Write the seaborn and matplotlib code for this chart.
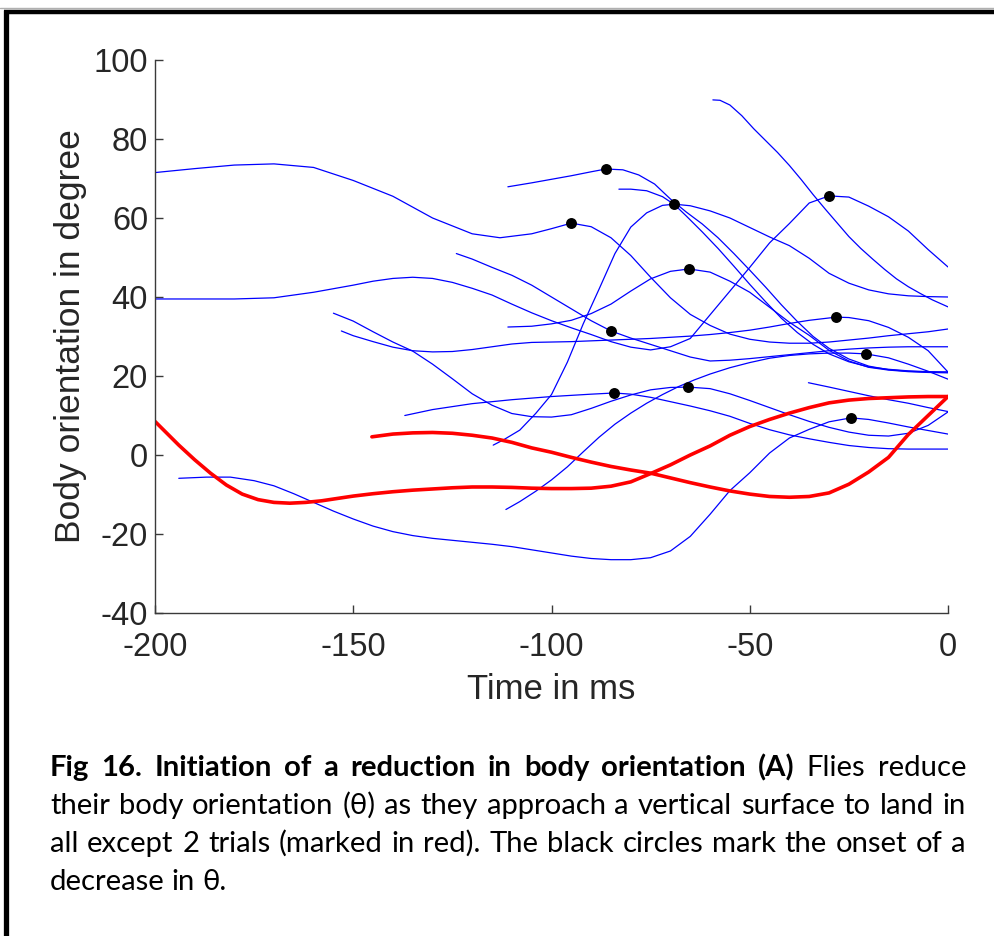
import numpy as np
import pandas as pd
import seaborn as sns
import matplotlib
matplotlib.use("Agg")
import matplotlib.pyplot as plt
from matplotlib.lines import Line2D

# ---------------- trajectories: time (ms) and body orientation (deg) ----------------
t_b1 = [-200, -190, -180, -170, -160, -150, -140, -130, -120, -113, -105, -100, -95, -90, -85, -80,
        -75, -70, -65, -60, -55, -50, -45, -40, -35, -30, -25, -20, -15, -10, -5, 0]
y_b1 = [71.5, 72.5, 73.4, 73.7, 72.8, 69.5, 65.5, 60.0, 56.0, 55.0, 56.0, 57.3, 58.7, 57.8, 55.0, 50.5,
        45.0, 39.8, 35.6, 32.8, 30.6, 29.3, 28.6, 28.3, 28.3, 28.6, 29.1, 29.6, 30.2, 30.7, 31.2, 31.9]

t_b2 = [-200, -190, -180, -170, -160, -150, -145, -140, -135, -130, -125, -120, -115, -110, -105, -100,
        -95, -90, -85, -80, -75, -70, -65, -60, -55, -50, -45, -40, -35, -30, -25, -20, -15, -10, -5, 0]
y_b2 = [39.5, 39.5, 39.5, 39.8, 41.2, 43.0, 44.0, 44.7, 45.0, 44.7, 43.7, 42.2, 40.5, 38.2, 36.0, 34.0,
        32.2, 30.5, 28.7, 27.3, 26.6, 27.4, 29.5, 35.5, 41.5, 47.5, 53.7, 58.6, 63.8, 65.6, 65.3, 63.0,
        60.3, 56.7, 52.0, 47.6]

t_b3 = [-194, -187, -181, -175, -170, -165, -160, -155, -150, -145, -140, -135, -130, -125, -120, -115,
        -110, -105, -100, -95, -90, -85, -80, -75, -70, -65, -60, -55, -50, -45, -40, -35, -30, -24.5,
        -20, -15, -10, -5, 0]
y_b3 = [-5.9, -5.6, -5.6, -6.5, -7.8, -9.8, -12.0, -14.2, -16.2, -18.0, -19.4, -20.4, -21.1, -21.6,
        -22.1, -22.6, -23.2, -24.0, -24.8, -25.6, -26.2, -26.5, -26.5, -26.0, -24.3, -20.6, -15.0, -9.0,
        -4.5, 0.5, 4.3, 6.5, 8.4, 9.4, 9.0, 8.1, 7.1, 6.2, 5.3]

t_b4 = [-155, -150, -145, -140, -135, -130, -125, -120, -115, -110, -105, -100, -95, -90, -85, -80,
        -75, -70, -65.6, -60, -55, -50, -45, -40, -35, -30, -25, -20, -15, -10, -5, 0]
y_b4 = [35.9, 33.9, 31.2, 28.6, 26.3, 23.0, 19.3, 15.5, 12.6, 10.5, 9.7, 9.6, 10.2, 11.8, 13.6, 15.2,
        16.5, 17.1, 17.2, 16.8, 15.5, 13.8, 12.0, 10.2, 8.5, 7.0, 5.8, 5.0, 4.8, 5.5, 7.5, 10.9]

t_b5 = [-153, -150, -145, -140, -135, -130, -125, -120, -115, -110, -105, -100, -95, -90, -85, -80,
        -75, -70, -65, -60, -55, -50, -45, -40, -35, -28.2, -25, -20, -15, -10, -5, 0]
y_b5 = [31.4, 30.2, 28.7, 27.3, 26.4, 26.1, 26.2, 26.7, 27.4, 28.1, 28.5, 28.6, 28.7, 28.9, 29.1, 29.3,
        29.5, 29.8, 30.1, 30.5, 31.0, 31.6, 32.4, 33.3, 34.1, 34.9, 34.8, 34.0, 32.3, 29.8, 26.4, 21.0]

t_b6 = [-137, -130, -120, -110, -100, -90, -84.2, -80, -75, -70, -65, -60, -55, -50, -45, -40, -35,
        -30, -25, -20, -15, -10, -5, 0]
y_b6 = [10.0, 11.5, 13.0, 14.0, 14.8, 15.4, 15.7, 15.4, 14.6, 13.5, 12.4, 11.2, 9.8, 8.0, 6.4, 5.1,
        4.1, 3.2, 2.4, 1.9, 1.6, 1.5, 1.5, 1.5]

t_b7 = [-124, -120, -115, -110, -105, -100, -95, -90, -85, -80, -75, -70, -65, -60, -55, -50, -45,
        -40, -35, -30, -25, -20, -15, -10, -5, 0]
y_b7 = [51.0, 49.6, 47.5, 45.5, 43.0, 40.0, 37.0, 34.0, 31.4, 29.6, 28.0, 26.4, 24.8, 23.8, 24.0,
        24.4, 24.9, 25.4, 25.9, 26.4, 26.8, 27.1, 27.3, 27.4, 27.4, 27.4]

t_b8 = [-111, -105, -100, -95, -90, -85, -80, -75, -70, -65.3, -60, -55, -50, -45, -40, -35, -30,
        -25, -20, -15, -10, -5, 0]
y_b8 = [32.4, 32.6, 33.2, 34.1, 35.8, 38.2, 41.5, 44.6, 46.5, 47.1, 46.3, 44.0, 41.2, 37.4, 33.6,
        30.3, 26.5, 23.8, 22.2, 21.5, 21.1, 20.9, 20.8]

t_b9 = [-111, -105, -100, -95, -90, -86.3, -82, -78, -74, -70, -66, -62, -58, -54, -50, -46, -42,
        -38, -34, -30, -25, -20, -15, -10, -5, 0]
y_b9 = [67.9, 68.9, 69.8, 70.7, 71.7, 72.4, 72.2, 70.9, 68.6, 64.8, 61.5, 58.5, 55.0, 51.0, 46.8,
        42.5, 38.0, 33.8, 30.0, 27.0, 24.3, 22.5, 21.6, 21.2, 21.0, 21.0]

t_b10 = [-114.7, -112, -108, -104, -100, -96, -92, -88, -84, -80, -76, -72, -69, -65, -60, -55, -50,
         -45, -40, -35, -30, -25, -20, -15, -10, -5, 0]
y_b10 = [2.5, 3.9, 6.3, 10.5, 15.3, 23.5, 33.2, 42.0, 51.0, 57.7, 61.3, 63.2, 63.5, 63.1, 61.8, 60.0,
         57.6, 55.2, 53.0, 49.8, 46.0, 43.5, 41.8, 40.8, 40.3, 40.1, 40.0]

t_b11 = [-111.5, -108, -104, -100, -96, -92, -88, -84, -80, -76, -72, -68, -64, -60, -55, -50, -45,
         -40, -35, -30, -25, -20.7, -15, -10, -5, 0]
y_b11 = [-13.8, -11.8, -9.2, -6.3, -3.0, 0.8, 4.5, 7.8, 10.6, 13.1, 15.3, 17.3, 19.0, 20.5, 22.1,
         23.4, 24.5, 25.2, 25.6, 25.8, 25.8, 25.6, 24.6, 23.0, 21.2, 19.2]

t_b12 = [-83, -80, -76, -72, -69, -66, -62, -58, -54, -50, -46, -42, -38, -34, -30, -25, -20, -15,
         -10, -5, 0]
y_b12 = [67.3, 67.3, 66.9, 65.4, 63.4, 60.5, 56.5, 52.3, 47.8, 43.2, 38.8, 34.6, 31.0, 28.0, 25.6,
         23.6, 22.3, 21.7, 21.3, 21.1, 21.0]

t_b13 = [-59.3, -57.5, -55, -52, -49, -46, -43, -40, -37, -34, -31, -28, -25, -22, -19, -16, -13,
         -10, -7, -4, 0]
y_b13 = [89.9, 89.8, 88.6, 85.9, 82.6, 79.6, 76.6, 73.3, 69.7, 65.9, 62.3, 58.8, 55.3, 52.3, 49.6,
         47.0, 44.6, 42.6, 40.9, 39.3, 37.5]

t_b14 = [-35.2, -30, -25, -20, -15, -10, -5, 0]
y_b14 = [18.3, 17.2, 16.1, 15.0, 14.0, 13.1, 12.0, 11.0]

# the two trials without a reduction
t_r1 = [-200, -197, -194, -190, -186, -182, -178, -174, -170, -166, -162, -158, -154, -150, -145,
        -140, -135, -130, -125, -120, -115, -110, -105, -100, -95, -90, -85, -80, -75, -70, -65, -60,
        -55, -50, -45, -40, -35, -30, -25, -20, -15, -10, -5, 0]
y_r1 = [8.5, 5.5, 2.5, -1.2, -4.6, -7.6, -9.9, -11.3, -12.0, -12.2, -12.0, -11.6, -11.0, -10.4, -9.8,
        -9.3, -8.9, -8.6, -8.3, -8.1, -8.1, -8.2, -8.4, -8.5, -8.5, -8.4, -7.9, -6.8, -4.7, -2.5, 0.0,
        2.3, 5.0, 7.2, 9.0, 10.6, 12.0, 13.2, 13.9, 14.3, 14.5, 14.7, 14.8, 14.8]

t_r2 = [-145.3, -140, -135, -130, -125, -120, -115, -110, -105, -100, -95, -90, -85, -80, -75, -70,
        -65, -60, -55, -50, -45, -40, -35, -30, -25, -20, -15, -10, -5, 0]
y_r2 = [4.6, 5.3, 5.6, 5.7, 5.5, 5.0, 4.3, 3.2, 1.8, 0.7, -0.6, -1.8, -2.9, -3.8, -4.6, -5.8, -7.0,
        -8.1, -9.1, -9.9, -10.5, -10.7, -10.5, -9.6, -7.4, -4.3, -0.6, 5.2, 10.0, 14.8]

# onset of the decrease (ms) for the trials that have one
onset = {"b1": -95, "b2": -30, "b3": -24.5, "b4": -65.6, "b5": -28.2, "b6": -84.2,
         "b7": -85, "b8": -65.3, "b9": -86.3, "b10": -69, "b11": -20.7}

blue_trials = {"b1": (t_b1, y_b1), "b2": (t_b2, y_b2), "b3": (t_b3, y_b3), "b4": (t_b4, y_b4),
               "b5": (t_b5, y_b5), "b6": (t_b6, y_b6), "b7": (t_b7, y_b7), "b8": (t_b8, y_b8),
               "b9": (t_b9, y_b9), "b10": (t_b10, y_b10), "b11": (t_b11, y_b11),
               "b12": (t_b12, y_b12), "b13": (t_b13, y_b13), "b14": (t_b14, y_b14)}
red_trials = {"r1": (t_r1, y_r1), "r2": (t_r2, y_r2)}

x_ticks = [-200, -150, -100, -50, 0]
y_ticks = [-40, -20, 0, 20, 40, 60, 80, 100]


def to_frame(trials):
    rows = []
    for name, (t, y) in trials.items():
        for ti, yi in zip(t, y):
            rows.append((name, ti, yi))
    return pd.DataFrame(rows, columns=["trial", "t", "theta"])


df_blue = to_frame(blue_trials)
df_red = to_frame(red_trials)
df_on = pd.DataFrame(
    [(k, v, blue_trials[k][1][blue_trials[k][0].index(v)]) for k, v in onset.items()],
    columns=["trial", "t", "theta"])

# ---------------- figure ----------------
sns.set_theme(style="white")
plt.rcParams["font.family"] = ["Liberation Sans", "DejaVu Sans"]
plt.rcParams["axes.unicode_minus"] = False

W, H = 995, 936
fig = plt.figure(figsize=(W / 100, H / 100), dpi=100)
fig.patch.set_facecolor("white")
ax = fig.add_axes([155 / W, 1 - 613 / H, (948 - 155) / W, (613 - 60) / H])

sns.lineplot(data=df_blue, x="t", y="theta", units="trial", estimator=None, sort=False,
             color="#0000ff", linewidth=0.9, ax=ax, legend=False)
sns.lineplot(data=df_red, x="t", y="theta", units="trial", estimator=None, sort=False,
             color="#ff0000", linewidth=2.6, ax=ax, legend=False)
sns.scatterplot(data=df_on, x="t", y="theta", color="black", s=62, edgecolor="black",
                linewidth=0, zorder=5, ax=ax, legend=False)

ax.set_xlim(-200, 0)
ax.set_ylim(-40, 100)
ax.set_xticks(x_ticks)
ax.set_yticks(y_ticks)
axis_col = "#3a3a3a"
for side in ["top", "right"]:
    ax.spines[side].set_visible(False)
for side in ["left", "bottom"]:
    ax.spines[side].set_color(axis_col)
    ax.spines[side].set_linewidth(1.0)
ax.tick_params(direction="in", length=6, width=1.0, color=axis_col, labelcolor="#262626",
               labelsize=23.5, left=True, bottom=True)
ax.tick_params(axis="x", pad=14)
ax.tick_params(axis="y", pad=5)
ax.set_xlabel("Time in ms", fontsize=25, color="#262626", labelpad=7)
ax.set_ylabel("Body orientation in degree", fontsize=25.5, color="#262626", labelpad=5)
ax.patch.set_alpha(0)

# page frame around the figure panel
fig.add_artist(Line2D([0, 1], [1 - 7.5 / H, 1 - 7.5 / H], color="#b0b0b0", lw=1.0,
                      transform=fig.transFigure))
fig.add_artist(Line2D([4 / W, 1], [1 - 11.5 / H, 1 - 11.5 / H], color="black", lw=3.2,
                      transform=fig.transFigure, solid_capstyle="butt"))
fig.add_artist(Line2D([6.5 / W, 6.5 / W], [0, 1 - 10 / H], color="black", lw=3.8,
                      transform=fig.transFigure, solid_capstyle="butt"))

# ---------------- caption (justified) ----------------
cap_font = ["Lato", "DejaVu Sans"]
cap_lines = [
    ([("Fig", True), ("16.", True), ("Initiation", True), ("of", True), ("a", True),
      ("reduction", True), ("in", True), ("body", True), ("orientation", True), ("(A)", True),
      ("Flies", False), ("reduce", False)], True),
    ([(w, False) for w in "their body orientation (θ) as they approach a vertical surface to land in".split()], True),
    ([(w, False) for w in "all except 2 trials (marked in red). The black circles mark the onset of a".split()], True),
    ([(w, False) for w in "decrease in θ.".split()], False),
]
baselines = [776, 814, 852, 890]
x_left, x_right = 50, 966

fig.canvas.draw()
renderer = fig.canvas.get_renderer()

# pick the caption size so that the widest line fills the column with ordinary spacing
probe_size = 20
widest = 0
for words, _ in cap_lines[:3]:
    probe = fig.text(0, 0, " ".join(w for w, _ in words), fontsize=probe_size, family=cap_font,
                     fontweight="bold" if words[0][1] else "normal")
    widest = max(widest, probe.get_window_extent(renderer).width)
    probe.remove()
cap_size = probe_size * (x_right - x_left) / widest * 0.985

space_px = 0.24 * cap_size * 100 / 72
for (words, justify), yb in zip(cap_lines, baselines):
    arts = [fig.text(0, 1 - yb / H, w, fontsize=cap_size, family=cap_font,
                     fontweight="bold" if b else "normal", color="black",
                     ha="left", va="baseline") for w, b in words]
    widths = [a.get_window_extent(renderer).width for a in arts]
    gap = (x_right - x_left - sum(widths)) / (len(arts) - 1) if justify else space_px
    x = x_left
    for a, wd in zip(arts, widths):
        a.set_x(x / W)
        x += wd + gap

fig.savefig("out.png", dpi=100, facecolor="white")
